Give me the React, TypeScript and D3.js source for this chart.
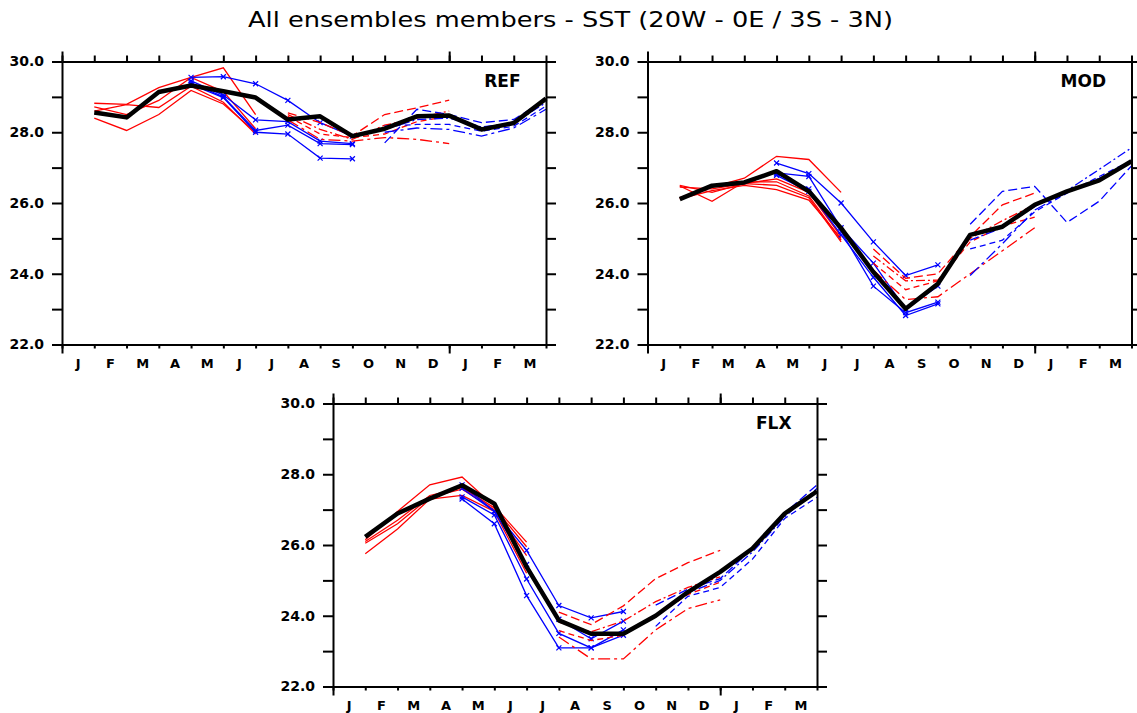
import React, { useEffect, useRef } from "react";
import * as d3 from "d3";

// month labels sit between the ticks, data sits on the ticks (0..15)
const months = ["J", "F", "M", "A", "M", "J", "J", "A", "S", "O", "N", "D", "J", "F", "M"];
const yTicks = [22, 23, 24, 25, 26, 27, 28, 29, 30];
const majorX = [0, 12];

// first tick of each group of forecasts
const startRedSolid = 1;
const startBlueSolid = 4;
const startRedDash = 7;
const startBlueDash = 10;

// ---- REF ----
const refObs = [28.56, 28.42, 29.14, 29.32, 29.16, 28.98, 28.36, 28.45, 27.89, 28.1, 28.45, 28.47, 28.08, 28.26, 28.95];
const refRedSolid = [
  [28.82, 28.79, 29.26, 29.55, 29.82, 28.5],
  [28.72, 28.5, 28.9, 29.55, 29.15, 28.1],
  [28.6, 28.78, 28.7, 29.3, 28.85, 27.95],
  [28.4, 28.05, 28.5, 29.18, 28.8, 28.0],
];
const refBlueSolid = [
  [29.55, 29.57, 29.37, 28.9, 28.27, 27.89],
  [29.45, 29.05, 28.35, 28.3, 27.75, 27.68],
  [29.4, 29.0, 28.05, 28.2, 27.68, 27.65],
  [29.35, 28.98, 28.0, 27.95, 27.27, 27.25],
];
const refRedDash = [
  [28.55, 28.27, 27.9, 28.5, 28.69, 28.91],
  [28.5, 28.08, 27.8, 28.2, 28.4, 28.6],
  [28.45, 27.95, 27.85, 27.95, 28.3, 28.45],
  [28.35, 27.8, 27.75, 27.85, 27.8, 27.68],
];
const refBlueDash = [
  [27.7, 28.65, 28.5, 28.27, 28.36, 28.93],
  [28.08, 28.36, 28.4, 28.15, 28.26, 28.84],
  [28.17, 28.22, 28.22, 28.03, 28.17, 28.74],
  [28.0, 28.12, 28.08, 27.89, 28.12, 28.65],
];

// ---- MOD ----
const modObs = [26.11, 26.49, 26.58, 26.9, 26.33, 25.29, 24.05, 23.01, 23.72, 25.1, 25.33, 25.95, 26.33, 26.64, 27.18];
const modRedSolid = [
  [26.15, 26.45, 26.7, 27.32, 27.23, 26.3],
  [26.5, 26.3, 26.55, 26.68, 26.3, 25.05],
  [26.48, 26.05, 26.6, 26.6, 26.2, 24.95],
  [26.45, 26.4, 26.55, 26.5, 26.15, 24.9],
  [26.12, 26.35, 26.5, 26.38, 26.08, 25.0],
];
const modBlueSolid = [
  [27.13, 26.83, 26.0, 24.9, 23.95, 24.25],
  [26.85, 26.75, 25.3, 24.3, 23.0, 23.65],
  [26.82, 26.4, 25.2, 23.65, 22.9, 23.2],
  [26.78, 26.33, 25.1, 23.9, 22.82, 23.15],
];
const modRedDash = [
  [24.7, 23.87, 24.0, 25.05, 25.95, 26.28],
  [24.5, 23.8, 23.82, 25.0, 25.5, 25.95],
  [24.3, 23.55, 23.8, 24.9, 25.35, 25.6],
  [24.1, 23.27, 23.35, 24.0, 24.65, 25.3],
];
const modBlueDash = [
  [25.4, 26.33, 26.47, 25.45, 26.05, 27.05],
  [24.95, 25.3, 25.9, 26.35, 26.95, 27.56],
  [24.7, 24.95, 25.75, 26.28, 26.75, 27.2],
  [23.95, 24.85, 25.8, 26.3, 26.7, 27.15],
];

// ---- FLX ----
const flxObs = [26.23, 26.89, 27.31, 27.69, 27.17, 25.38, 23.87, 23.49, 23.49, 24.0, 24.67, 25.24, 25.9, 26.89, 27.52];
const flxRedSolid = [
  [26.15, 26.95, 27.7, 27.92, 27.1, 26.08],
  [26.1, 26.7, 27.4, 27.62, 27.05, 25.95],
  [26.05, 26.6, 27.35, 27.58, 27.0, 25.7],
  [25.75, 26.45, 27.3, 27.4, 26.95, 25.2],
];
const flxBlueSolid = [
  [27.7, 26.95, 25.85, 24.29, 23.94, 24.12],
  [27.6, 26.95, 25.45, 23.9, 23.35, 23.85],
  [27.36, 26.85, 25.04, 23.5, 23.09, 23.6],
  [27.3, 26.6, 24.57, 23.09, 23.09, 23.45],
];
const flxRedDash = [
  [24.1, 23.75, 24.28, 25.05, 25.5, 25.85],
  [23.82, 23.55, 23.85, 24.4, 24.8, 25.1],
  [23.58, 23.3, 23.45, 24.0, 24.6, 24.95],
  [23.4, 22.78, 22.78, 23.6, 24.2, 24.45],
];
const flxBlueDash = [
  [24.3, 24.75, 25.05, 25.9, 26.9, 27.7],
  [24.0, 24.65, 25.0, 25.8, 26.8, 27.6],
  [23.7, 24.55, 24.8, 25.6, 26.75, 27.35],
];

const panels = [
  { name: "REF", left: 62, top: 61.5, obs: refObs, rs: refRedSolid, bs: refBlueSolid, rd: refRedDash, bd: refBlueDash },
  { name: "MOD", left: 647.5, top: 61.5, obs: modObs, rs: modRedSolid, bs: modBlueSolid, rd: modRedDash, bd: modBlueDash },
  { name: "FLX", left: 333, top: 403.5, obs: flxObs, rs: flxRedSolid, bs: flxBlueSolid, rd: flxRedDash, bd: flxBlueDash },
];

const dashes = ["9,4", "9,3,2,3", "6,4", "12,4,3,4", "8,5"];
const W = 484;
const H = 283;
const FONT = "'DejaVu Sans', sans-serif";

const App = () => {
  const svgRef = useRef<SVGSVGElement>(null);

  useEffect(() => {
    const svg = d3.select(svgRef.current);
    svg.selectAll("*").remove();

    svg
      .append("text")
      .attr("x", 570.5)
      .attr("y", 27)
      .attr("text-anchor", "middle")
      .attr("font-family", FONT)
      .attr("font-size", 21)
      .attr("textLength", 645)
      .attr("lengthAdjust", "spacingAndGlyphs")
      .text("All ensembles members - SST (20W - 0E / 3S - 3N)");

    const x = d3.scaleLinear().domain([0, 15]).range([0, W]);
    const y = d3.scaleLinear().domain([22, 30]).range([H, 0]);

    panels.forEach((p) => {
      const g = svg.append("g").attr("transform", `translate(${p.left},${p.top})`);

      const line = (start: number) =>
        d3
          .line<number>()
          .x((_, i) => x(start + i))
          .y((d) => y(d));

      const drawGroup = (rows: number[][], start: number, color: string, dashed: boolean, marks: boolean) => {
        rows.forEach((r, k) => {
          g.append("path")
            .attr("d", line(start)(r))
            .attr("fill", "none")
            .attr("stroke", color)
            .attr("stroke-width", 1.3)
            .attr("stroke-dasharray", dashed ? dashes[k % dashes.length] : null);
          if (marks) {
            r.forEach((v, i) => {
              const cx = x(start + i);
              const cy = y(v);
              g.append("path")
                .attr("d", `M${cx - 2.5},${cy - 2.5}L${cx + 2.5},${cy + 2.5}M${cx - 2.5},${cy + 2.5}L${cx + 2.5},${cy - 2.5}`)
                .attr("stroke", color)
                .attr("stroke-width", 1.2);
            });
          }
        });
      };

      drawGroup(p.rs, startRedSolid, "#ff0000", false, false);
      drawGroup(p.bs, startBlueSolid, "#0000ff", false, true);
      drawGroup(p.rd, startRedDash, "#ff0000", true, false);
      drawGroup(p.bd, startBlueDash, "#0000ff", true, false);

      g.append("path")
        .attr("d", line(1)(p.obs))
        .attr("fill", "none")
        .attr("stroke", "#000")
        .attr("stroke-width", 4.5)
        .attr("stroke-linejoin", "round");

      // axes
      const styleAxis = (a: any) => {
        a.selectAll("path, line").attr("stroke", "#000").attr("stroke-width", 2);
        a.attr("font-family", FONT).attr("font-weight", "bold");
      };

      g.append("g")
        .attr("transform", `translate(0,${H})`)
        .call(d3.axisBottom(x).tickValues(d3.range(16)).tickSize(4).tickSizeOuter(0).tickFormat(() => ""))
        .call(styleAxis);
      g.append("g")
        .attr("transform", `translate(0,${H})`)
        .call(d3.axisBottom(x).tickValues(majorX).tickSize(9).tickSizeOuter(0).tickFormat(() => ""))
        .call(styleAxis);
      g.append("g")
        .call(d3.axisTop(x).tickValues(d3.range(16)).tickSize(6).tickSizeOuter(0).tickFormat(() => ""))
        .call(styleAxis);
      g.append("g")
        .call(d3.axisTop(x).tickValues(majorX).tickSize(10).tickSizeOuter(0).tickFormat(() => ""))
        .call(styleAxis);
      g.append("g")
        .call(
          d3
            .axisLeft(y)
            .tickValues(yTicks)
            .tickSize(10)
            .tickSizeOuter(0)
            .tickPadding(8)
            .tickFormat((d: any) => (d % 2 === 0 ? d3.format(".1f")(d) : ""))
        )
        .call(styleAxis)
        .attr("font-size", 14);
      g.append("g")
        .attr("transform", `translate(${W},0)`)
        .call(d3.axisRight(y).tickValues(yTicks).tickSize(10).tickSizeOuter(0).tickFormat(() => ""))
        .call(styleAxis);

      g.append("g")
        .selectAll("text")
        .data(months)
        .enter()
        .append("text")
        .attr("x", (_, i) => x(i + 0.5))
        .attr("y", H + 23)
        .attr("text-anchor", "middle")
        .attr("font-family", FONT)
        .attr("font-weight", "bold")
        .attr("font-size", 13)
        .text((d) => d);

      g.append("text")
        .attr("x", W - 25.5)
        .attr("y", 25.5)
        .attr("text-anchor", "end")
        .attr("font-family", FONT)
        .attr("font-weight", "bold")
        .attr("font-size", 17)
        .text(p.name);
    });
  }, []);

  return (
    <svg
      ref={svgRef}
      width={1137}
      height={713}
      style={{ position: "absolute", left: 0, top: 0, background: "#fff" }}
    />
  );
};

export default App;
